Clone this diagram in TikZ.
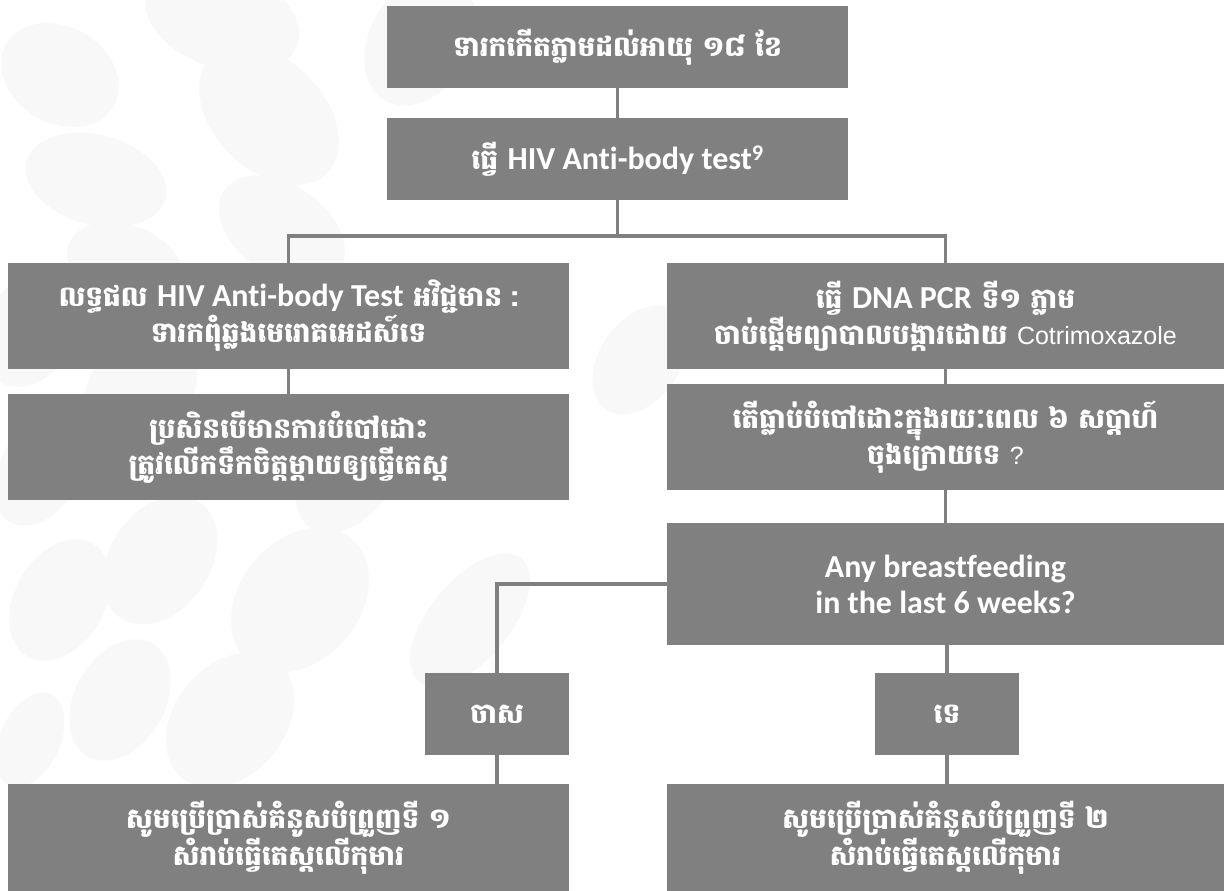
\documentclass[tikz,border=0pt]{standalone}
\usepackage{fontspec}
\newfontfamily\khfont[Script=Khmer]{Battambang}
\newfontfamily\latfont[Ligatures=NoCommon]{Carlito}
\newfontfamily\arialfont{Liberation Sans}
\usetikzlibrary{positioning,calc}

\definecolor{boxgray}{RGB}{128,128,128}
\definecolor{ovalgray}{RGB}{248,248,248}

\tikzset{
  box/.style={fill=boxgray,text=white,inner sep=0pt,align=center,
    font=\khfont\bfseries\fontsize{28}{36}\selectfont},
  link/.style={draw=boxgray,line width=3.5pt},
  oval/.style={fill=ovalgray}
}
\newcommand{\lat}[1]{{\latfont\bfseries\fontsize{32}{36}\selectfont #1}}

\begin{document}
\begin{tikzpicture}[x=1pt,y=-1pt]
  \useasboundingbox[fill=white] (0,0) rectangle (1224,891);

  % Background ovals
  \foreach \cx/\cy/\rx/\ry/\rot in {60/75/62/48/-30, 222/18/80/50/-20, 269/115/82/55/-45,
      96/180/72/45/-15, 282/230/70/45/-35, 125/265/60/40/-20, 30/330/45/60/-30,
      140/390/50/70/-35, 40/470/40/60/-30, 420/40/50/70/-30, 640/360/40/60/-35,
      60/600/45/65/-30, 160/560/50/70/-35, 300/600/60/80/-40, 120/700/45/65/-30,
      230/720/55/75/-40, 30/740/30/50/-25, 470/620/40/80/-40, 350/470/45/70/-35}
    \fill[oval,rotate around={\rot:(\cx,\cy)}] (\cx,\cy) ellipse[x radius=\rx,y radius=\ry];

  % Top boxes
  \node[box,minimum width=461,minimum height=82] (birth) at (617.5,47)
    {ទារកកើតភ្លាមដល់អាយុ ១៨ ខែ};
  \node[box,minimum width=461,minimum height=82] (abtest) at (617.5,159)
    {ធ្វើ \lat{HIV Anti-body test\textsuperscript{9}}};
  \coordinate (split) at (617.5,236);

  % Left branch
  \node[box,minimum width=561,minimum height=106] (negative) at (288.5,316)
    {លទ្ធផល \lat{HIV Anti-body Test} អវិជ្ជមាន :\\ទារកពុំឆ្លងមេរោគអេដស៍ទេ};
  \node[box,minimum width=561,minimum height=106] (feeding) at (288.5,447)
    {ប្រសិនបើមានការបំបៅដោះ\\ត្រូវលើកទឹកចិត្តម្ដាយឲ្យធ្វើតេស្ត};

  % Right branch
  \node[box,minimum width=557,minimum height=106] (pcr) at (945.5,316)
    {ធ្វើ \lat{DNA PCR} ទី១ ភ្លាម\\ចាប់ផ្ដើមព្យាបាលបង្ការដោយ {\arialfont\mdseries\fontsize{25}{36}\selectfont Cotrimoxazole}};
  \node[box,minimum width=557,minimum height=106] (question) at (945.5,437)
    {តើធ្លាប់បំបៅដោះក្នុងរយៈពេល ៦ សប្ដាហ៍\\ចុងក្រោយទេ {\arialfont\mdseries\fontsize{25}{36}\selectfont ?}};
  \node[box,minimum width=557,minimum height=122] (breast) at (945.5,584)
    {\lat{Any breastfeeding}\\\lat{in the last 6 weeks?}};

  % Answers
  \node[box,minimum width=144,minimum height=82] (yes) at (497,714) {ចាស};
  \node[box,minimum width=144,minimum height=82] (no) at (947,714) {ទេ};

  % Bottom boxes
  \node[box,minimum width=561,minimum height=107] (chart1) at (288.5,837.5)
    {សូមប្រើប្រាស់គំនូសបំព្រួញទី ១\\សំរាប់ធ្វើតេស្តលើកុមារ};
  \node[box,minimum width=557,minimum height=107] (chart2) at (945.5,837.5)
    {សូមប្រើប្រាស់គំនូសបំព្រួញទី ២\\សំរាប់ធ្វើតេស្តលើកុមារ};

  % Connectors
  \draw[link] (birth) -- (abtest);
  \draw[link] (abtest) -- (split);
  \draw[link] (negative.north) |- (split) -| (pcr.north);
  \draw[link] (negative) -- (feeding);
  \draw[link] (pcr) -- (question);
  \draw[link] (question) -- (breast);
  \draw[link] (breast.west) -| (yes.north);
  \draw[link] (breast.south) -- (breast.south -| no.north) -- (no.north);
  \draw[link] (yes.south) -- (yes.south |- chart1.north);
  \draw[link] (no.south) -- (no.south |- chart2.north);
\end{tikzpicture}
\end{document}
